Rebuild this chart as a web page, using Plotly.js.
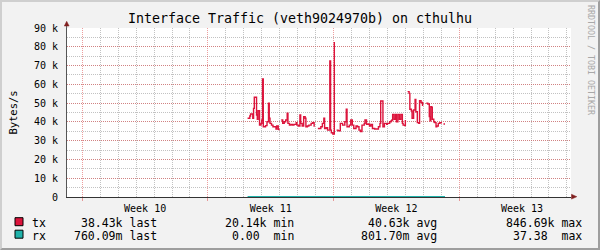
<!DOCTYPE html>
<html><head><meta charset="utf-8">
<script src="https://cdn.plot.ly/plotly-3.0.1.min.js"></script>
<style>
html,body{margin:0;padding:0;background:#F2F2F2;}
#frame{width:600px;height:250px;box-sizing:border-box;border-top:2px solid #CFCFCF;border-left:2px solid #CFCFCF;border-right:2px solid #9E9E9E;border-bottom:2px solid #9E9E9E;background:#F2F2F2;overflow:hidden;}
#chart{width:596px;height:246px;}
</style></head><body>
<div id="frame"><div id="chart"></div></div>
<script>
// ---- data ----
const txTimes = [
"2024-03-13 05:00","2024-03-13 08:00","2024-03-13 09:00","2024-03-13 12:00","2024-03-13 13:00","2024-03-13 14:00","2024-03-13 17:00","2024-03-13 18:00","2024-03-13 19:00","2024-03-13 21:00","2024-03-13 23:00",
"2024-03-14 00:00","2024-03-14 01:00","2024-03-14 02:00","2024-03-14 05:00","2024-03-14 07:00","2024-03-14 09:00","2024-03-14 10:00","2024-03-14 11:00","2024-03-14 13:00","2024-03-14 15:00","2024-03-14 18:00","2024-03-14 19:00","2024-03-14 20:00","2024-03-14 22:00","2024-03-14 23:00",
"2024-03-15 01:00","2024-03-15 02:00","2024-03-15 04:00","2024-03-15 06:00","2024-03-15 08:00","2024-03-15 10:00","2024-03-15 11:00","2024-03-15 13:00","2024-03-15 15:00","2024-03-15 17:00","2024-03-15 19:00","2024-03-15 22:00","2024-03-15 23:00",
"2024-03-16 01:00","2024-03-16 03:00","2024-03-16 04:00","2024-03-16 06:00","2024-03-16 08:00","2024-03-16 10:00","2024-03-16 11:00","2024-03-16 13:00","2024-03-16 15:00","2024-03-16 18:00","2024-03-16 20:00","2024-03-16 22:00",
"2024-03-17 00:00","2024-03-17 03:00","2024-03-17 07:00","2024-03-17 09:00","2024-03-17 11:00","2024-03-17 12:00","2024-03-17 14:00","2024-03-17 16:00","2024-03-17 19:00","2024-03-17 20:00","2024-03-17 21:00","2024-03-17 23:00",
"2024-03-18 01:00","2024-03-18 02:00","2024-03-18 04:00","2024-03-18 06:00","2024-03-18 09:00","2024-03-18 12:00","2024-03-18 15:00","2024-03-18 17:00","2024-03-18 18:00","2024-03-18 21:00","2024-03-18 23:00",
"2024-03-19 01:00","2024-03-19 03:00","2024-03-19 06:00","2024-03-19 08:00","2024-03-19 10:00","2024-03-19 12:00","2024-03-19 14:00","2024-03-19 17:00","2024-03-19 18:00","2024-03-19 20:00","2024-03-19 22:00",
"2024-03-20 00:00","2024-03-20 02:00","2024-03-20 04:00","2024-03-20 07:00","2024-03-20 10:00","2024-03-20 12:00","2024-03-20 14:00","2024-03-20 15:00","2024-03-20 18:00","2024-03-20 20:00","2024-03-20 23:00",
"2024-03-21 00:00","2024-03-21 03:00","2024-03-21 05:00","2024-03-21 06:00","2024-03-21 07:00","2024-03-21 09:00","2024-03-21 11:00","2024-03-21 12:00","2024-03-21 14:00","2024-03-21 16:00","2024-03-21 18:00","2024-03-21 20:00","2024-03-21 21:00","2024-03-21 23:00",
"2024-03-22 00:00","2024-03-22 01:00","2024-03-22 03:00","2024-03-22 05:00","2024-03-22 06:00","2024-03-22 08:00","2024-03-22 09:00","2024-03-22 11:00","2024-03-22 13:00","2024-03-22 14:00","2024-03-22 16:00","2024-03-22 18:00","2024-03-22 19:00","2024-03-22 21:00","2024-03-22 23:00",
"2024-03-23 00:00","2024-03-23 04:00","2024-03-23 06:00","2024-03-23 08:00","2024-03-23 09:00","2024-03-23 10:00","2024-03-23 11:00","2024-03-23 12:00","2024-03-23 14:00","2024-03-23 15:00","2024-03-23 17:00","2024-03-23 18:00","2024-03-23 20:00","2024-03-23 22:00",
"2024-03-24 00:00","2024-03-24 01:00","2024-03-24 03:00","2024-03-24 05:00"
];
const txValues = [
41900,43100,44200,41900,47200,53100,43700,41400,46000,38300,39200,
41000,62900,37400,38000,40100,49900,41900,39200,38300,37400,37400,36200,37800,36000,35600,
null,41000,39200,40100,41000,44600,39200,38300,38700,38300,38700,39600,38300,
37800,43700,39200,37800,42800,41900,37400,37800,38300,39200,39600,37400,
null,36500,37400,39200,41900,36500,36900,35600,72500,35600,34200,33500,
82500,null,35600,35300,39200,38300,40100,46700,37400,38300,41000,
38300,36500,37800,37400,35600,34800,38300,39200,41000,38700,38900,
37800,38700,36500,36200,36200,37400,39200,51100,37400,39200,38700,
39200,40100,40600,41000,44000,41400,44000,40100,44000,41400,44000,39200,38300,38000,
41000,null,56100,55200,46700,45800,41900,46300,52000,45400,39600,39200,51300,50300,48500,
null,49900,49500,42800,40600,48100,47800,41400,40100,39600,37400,37800,39200,39600,
39200,null,38900,38900
];
const rxTimes = ["2024-03-13 05:00","2024-03-14 05:00","2024-03-15 05:00","2024-03-16 05:00","2024-03-17 05:00","2024-03-18 05:00","2024-03-19 05:00","2024-03-20 05:00","2024-03-21 05:00","2024-03-22 05:00","2024-03-23 05:00","2024-03-24 05:00"];
const rxValues = [0.81,0.79,0.76,0.84,0.80,0.78,0.83,0.79,0.82,0.77,0.80,0.76];

const weekTickVals = ["2024-03-07 12:00","2024-03-14 12:00","2024-03-21 12:00","2024-03-28 12:00"];
const weekTickText = ["Week 10","Week 11","Week 12","Week 13"];
const yTickVals = [0,10000,20000,30000,40000,50000,60000,70000,80000,90000];
const yTickText = ["0","10 k","20 k","30 k","40 k","50 k","60 k","70 k","80 k","90 k"];

const seriesNames = ["tx","rx"];
const seriesColors = ["#DC143C","#20B2AA"];
const statLast = ["38.43k","760.09m"];
const statMin = ["20.14k","0.00 "];
const statAvg = ["40.63k","801.70m"];
const statMax = ["846.69k","37.38 "];
const statLabels = ["last","min","avg","max"];

// ---- layout helpers (page pixels -> paper fractions) ----
const L = 65, T = 26, W = 504, H = 169, OFF = 2;
const pX = x => (x - OFF - L) / W;
const pY = y => (T + H - (y - OFF)) / H;

const MONO = "DejaVu Sans Mono";
const annotations = [];
const shapes = [];
const rowY = [222.5, 235.8];
const boxY = [221.7, 234.2];
const colRight = [158.8, 295.8, 439, 583.6];
const stats = [statLast, statMin, statAvg, statMax];
const nb = s => s.replace(/ /g, "\u00a0");

for (let i = 0; i < seriesNames.length; i++) {
  shapes.push({type:"rect", xref:"paper", yref:"paper",
    x0:pX(15), x1:pX(23), y0:pY(boxY[i]+4), y1:pY(boxY[i]-4),
    fillcolor:seriesColors[i], line:{color:"#000", width:1}});
  annotations.push({xref:"paper", yref:"paper", x:pX(30), y:pY(rowY[i]),
    xanchor:"left", yanchor:"middle", showarrow:false, text:seriesNames[i],
    font:{family:MONO, size:11.5, color:"#000"}});
  for (let c = 0; c < 4; c++) {
    annotations.push({xref:"paper", yref:"paper", x:pX(colRight[c]), y:pY(rowY[i]),
      xanchor:"right", yanchor:"middle", showarrow:false,
      text:nb(stats[c][i] + " " + statLabels[c]),
      font:{family:MONO, size:11.5, color:"#000"}});
  }
}
// watermark
annotations.push({xref:"paper", yref:"paper", x:pX(591), y:pY(60), xanchor:"center", yanchor:"middle",
  showarrow:false, textangle:90, text:"RRDTOOL / TOBI OETIKER",
  font:{family:MONO, size:8.3, color:"#A8A8A8"}});

// axis arrows
const ARROW = "#801F1F";
shapes.push({type:"path", xref:"paper", yref:"paper", fillcolor:ARROW, line:{color:ARROW, width:0.5},
  path:`M ${pX(571.5)} ${pY(194.3)} L ${pX(576.8)} ${pY(196.7)} L ${pX(571.5)} ${pY(199.1)} Z`});
shapes.push({type:"line", xref:"paper", yref:"paper", x0:pX(66.6), x1:pX(66.6), y0:pY(28), y1:pY(25.5),
  line:{color:"#555", width:1}});
shapes.push({type:"path", xref:"paper", yref:"paper", fillcolor:ARROW, line:{color:ARROW, width:0.5},
  path:`M ${pX(64.3)} ${pY(26)} L ${pX(66.7)} ${pY(21.3)} L ${pX(69.1)} ${pY(26)} Z`});

const xRange = ["2024-03-03 03:33","2024-03-31 05:29"];
const MGRID = "rgba(222,79,79,0.55)";
const GRID = "rgba(143,143,143,0.55)";

const traces = [
  {x:txTimes, y:txValues, type:"scatter", mode:"lines", name:"tx",
   line:{color:seriesColors[0], width:1.4, shape:"hv"}, connectgaps:false, xaxis:"x", yaxis:"y"},
  {x:rxTimes, y:rxValues, type:"scatter", mode:"lines", name:"rx",
   line:{color:seriesColors[1], width:2, shape:"hv"}, xaxis:"x2", yaxis:"y"}
];

const layout = {
  width:596, height:246,
  margin:{l:L, r:596-L-W, t:T, b:246-T-H, pad:0},
  paper_bgcolor:"#F2F2F2", plot_bgcolor:"#FFFFFF",
  showlegend:false,
  title:{text:"Interface Traffic (veth9024970b) on cthulhu", x:0.5, xref:"container", xanchor:"center",
    y:1-(18.3-OFF)/246, yref:"container", yanchor:"middle",
    font:{family:MONO, size:13.3, color:"#000"}},
  xaxis:{type:"date", range:xRange, tickmode:"array", tickvals:weekTickVals, ticktext:weekTickText,
    showgrid:false, zeroline:false, ticks:"", showline:true, linecolor:"#333", linewidth:1,
    tickfont:{family:MONO, size:10, color:"#000"}, ticklabelstandoff:2, layer:"below traces", fixedrange:true},
  xaxis2:{type:"date", range:xRange, overlaying:"x", anchor:"y", side:"bottom",
    tick0:"2024-03-04", dtick:604800000, showticklabels:false, ticks:"outside", ticklen:3, tickcolor:MGRID,
    showgrid:true, gridcolor:MGRID, griddash:"1px,1px", gridwidth:1, zeroline:false, showline:false,
    minor:{tick0:"2024-03-04", dtick:86400000, showgrid:true, gridcolor:GRID, griddash:"1px,1px", gridwidth:1, ticks:""},
    fixedrange:true},
  yaxis:{range:[0,90000], tickmode:"array", tickvals:yTickVals, ticktext:yTickText,
    showgrid:true, gridcolor:MGRID, griddash:"1px,1px", gridwidth:1, zeroline:false,
    minor:{dtick:5000, tick0:0, showgrid:true, gridcolor:GRID, griddash:"1px,1px", gridwidth:1, ticks:""},
    showline:true, linecolor:"#555", linewidth:1, ticks:"", ticklabelstandoff:6,
    tickfont:{family:MONO, size:10, color:"#000"},
    title:{text:"Bytes/s", standoff:14, font:{family:MONO, size:10.5, color:"#000"}}, fixedrange:true},
  annotations:annotations,
  shapes:shapes
};

Plotly.newPlot("chart", traces, layout, {staticPlot:true, displayModeBar:false});
</script>
</body></html>
